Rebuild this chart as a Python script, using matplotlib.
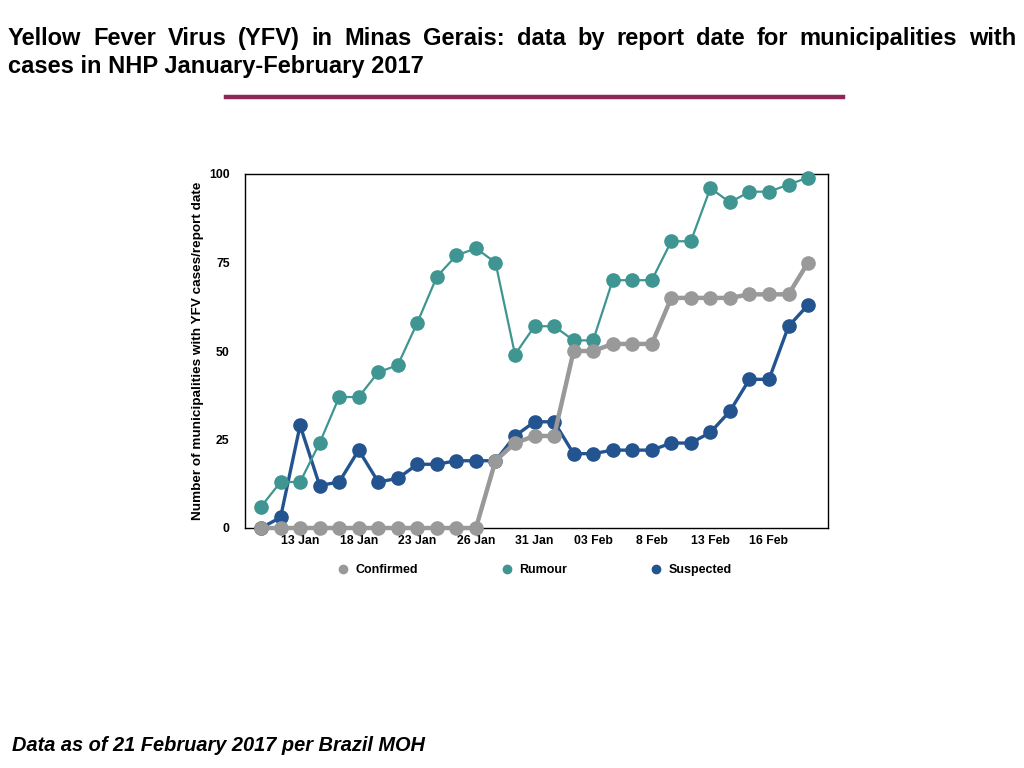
import matplotlib
matplotlib.use("Agg")
import matplotlib.pyplot as plt
from matplotlib.lines import Line2D

dates = ["11 Jan", "12 Jan", "13 Jan", "14 Jan", "17 Jan", "18 Jan", "19 Jan", "20 Jan", "23 Jan",
         "24 Jan", "25 Jan", "26 Jan", "27 Jan", "30 Jan", "31 Jan", "01 Feb", "02 Feb", "03 Feb",
         "06 Feb", "07 Feb", "8 Feb", "9 Feb", "10 Feb", "13 Feb", "14 Feb", "15 Feb", "16 Feb",
         "17 Feb", "20 Feb"]
confirmed = [0, 0, 0, 0, 0, 0, 0, 0, 0, 0, 0, 0, 19, 24, 26, 26, 50, 50, 52, 52, 52,
             65, 65, 65, 65, 66, 66, 66, 75]
rumour = [6, 13, 13, 24, 37, 37, 44, 46, 58, 71, 77, 79, 75, 49, 57, 57, 53, 53, 70, 70, 70,
          81, 81, 96, 92, 95, 95, 97, 99]
suspected = [0, 3, 29, 12, 13, 22, 13, 14, 18, 18, 19, 19, 19, 26, 30, 30, 21, 21, 22, 22, 22,
             24, 24, 27, 33, 42, 42, 57, 63]
tick_idx = [2, 5, 8, 11, 14, 17, 20, 23, 26]
tick_labels = ["13 Jan", "18 Jan", "23 Jan", "26 Jan", "31 Jan", "03 Feb", "8 Feb", "13 Feb", "16 Feb"]
y_ticks = [0, 25, 50, 75, 100]

C_CONF = "#999999"
C_RUM = "#3f9591"
C_SUS = "#23548f"

plt.rcParams['font.family'] = ['Liberation Sans', 'DejaVu Sans']

fig = plt.figure(figsize=(10.24, 7.68), dpi=100)
ax = fig.add_axes([245/1024, 1-528/768, (828-245)/1024, (528-174)/768])
x = list(range(len(dates)))

ax.plot(x, suspected, color=C_SUS, lw=2.4, marker='o', ms=9.5, clip_on=False, zorder=3)
ax.plot(x, rumour, color=C_RUM, lw=1.6, marker='o', ms=9.5, clip_on=False, zorder=4)
ax.plot(x, confirmed, color=C_CONF, lw=3.2, marker='o', ms=9.5, clip_on=False, zorder=5)

ax.set_xlim(-0.82, 29.02)
ax.set_ylim(0, 100)
ax.set_xticks(tick_idx)
ax.set_xticklabels(tick_labels)
ax.set_yticks(y_ticks)
ax.tick_params(axis='both', length=0, labelsize=8.8)
ax.tick_params(axis='y', pad=11)
ax.tick_params(axis='x', pad=5)
for lab in ax.get_xticklabels() + ax.get_yticklabels():
    lab.set_fontweight('bold')
for s in ax.spines.values():
    s.set_linewidth(1.0)
    s.set_color('black')
ax.set_ylabel("Number of municipalities with YFV cases/report date", fontsize=9.7,
              fontweight='bold', labelpad=4)

handles = [Line2D([], [], color=c, marker='o', ls='none', ms=6) for c in (C_CONF, C_RUM, C_SUS)]
fig.legend(handles, ["Confirmed", "Rumour", "Suspected"], loc='center',
           bbox_to_anchor=(535/1024, 1-570/768), ncol=3, frameon=False,
           prop={'weight': 'bold', 'size': 9}, columnspacing=6.7, handlelength=0.8,
           handletextpad=0.6)

# title (justified first line)
tsize = 17
line1 = "Yellow Fever Virus (YFV) in Minas Gerais: data by report date for municipalities with"
line2 = "cases in NHP January-February 2017"
fig.canvas.draw()
r = fig.canvas.get_renderer()
words = line1.split()
texts = [fig.text(0, 1-45/768, w, fontsize=tsize, fontweight='bold',
                  va='baseline', ha='left') for w in words]
widths = [t.get_window_extent(r).width for t in texts]
x0, x1 = 8, 1016
gap = (x1 - x0 - sum(widths)) / (len(words) - 1)
pos = x0
for t, w in zip(texts, widths):
    t.set_x(pos/1024)
    pos += w + gap
fig.text(8/1024, 1-73/768, line2, fontsize=tsize, fontweight='bold', va='baseline')

fig.add_artist(Line2D([226/1024, 843/1024], [1-97/768, 1-97/768], color="#8b2858", lw=3.2))

fig.text(12/1024, 1-751/768, "Data as of 21 February 2017 per Brazil MOH", fontsize=14.4,
         fontweight='bold', style='italic', va='baseline')

fig.savefig("out.png", dpi=100)
